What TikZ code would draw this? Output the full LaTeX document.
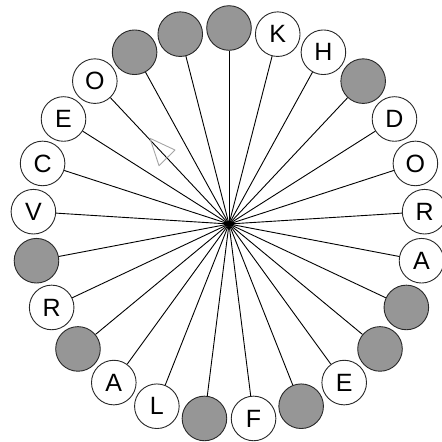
\documentclass[tikz,border=0pt]{standalone}
\usepackage{fontspec}
\setmainfont{Liberation Sans}
\usetikzlibrary{shapes.geometric}
\definecolor{discgray}{RGB}{150,150,150}
\definecolor{rimgray}{RGB}{40,40,40}
\definecolor{pointergray}{RGB}{165,165,165}
\tikzset{
  disc/.style={circle, draw=rimgray, line width=0.9pt, minimum size=44.6pt,
               inner sep=0pt, font=\fontsize{25}{25}\selectfont},
  lettered/.style={disc, fill=white},
  blank/.style={disc, fill=discgray},
  spoke/.style={line width=0.9pt, black},
  hubdot/.style={ellipse, fill=black, minimum width=11pt, minimum height=5pt, inner sep=0pt},
  pointer/.style={draw=pointergray, line width=0.9pt, line join=round}
}
\begin{document}
\begin{tikzpicture}[x=1pt,y=-1pt]
  \useasboundingbox (0,0) rectangle (442,442);
  % centre of the wheel
  \coordinate (hub) at (229,224);
  % 25 discs, clockwise from the top; an empty entry is a grey disc
  \foreach \lbl [count=\k from 0] in {,K,H,,D,O,R,A,,,E,,F,,L,A,,R,,V,C,E,O,,}{
    \pgfmathsetmacro{\ang}{90-14.4*\k}
    \coordinate (p\k) at ({229+196*cos(\ang)},{224-196*sin(\ang)});
    \ifx\lbl\empty
      \node[blank] (c\k) at (p\k) {};
    \else
      \node[lettered] (c\k) at (p\k) {\lbl};
    \fi
  }
  % spokes from the hub to every disc
  \foreach \k in {0,...,24}{
    \draw[spoke] (hub) -- (c\k);
  }
  \node[hubdot] (hubknot) at (hub) {};
  % hollow pointer lying on one spoke
  \draw[pointer] (150,138.3) -- (175,150) -- (159,165.7) -- cycle;
\end{tikzpicture}
\end{document}
